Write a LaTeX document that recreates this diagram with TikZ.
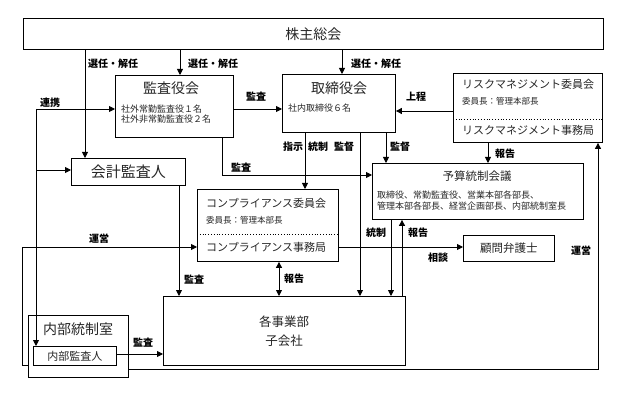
\documentclass[tikz,border=0pt]{standalone}
\usepackage{fontspec}
\setmainfont{Noto Sans CJK JP}
\usetikzlibrary{arrows.meta, positioning, calc}

\begin{document}
\begin{tikzpicture}[x=1pt, y=-1pt,
    caixa/.style={draw, line width=0.9pt, inner sep=0, anchor=north west, text=black!85},
    seta/.style={-{Triangle[length=6pt,width=6pt]}, line width=0.9pt},
    dupla/.style={{Triangle[length=6pt,width=6pt]}-{Triangle[length=6pt,width=6pt]}, line width=0.9pt},
    divisa/.style={dotted, line width=0.8pt},
    rotulo/.style={font=\bfseries\fontsize{10}{10}\selectfont, inner sep=0},
    titulo/.style={font=\fontsize{14}{14}\selectfont, text=black!85, inner sep=0},
    medio/.style={font=\fontsize{11}{11}\selectfont, text=black!85, inner sep=0, anchor=west},
    miudo/.style={font=\fontsize{9}{10.5}\selectfont, text=black!85, inner sep=0, anchor=west, align=left},
    minimo/.style={font=\fontsize{8.5}{8.5}\selectfont, text=black!85, inner sep=0, anchor=west}]

  \useasboundingbox (0,0) rectangle (619,393);

  % caixas principais
  \node[caixa, minimum width=580pt, minimum height=31pt, font=\fontsize{14}{14}\selectfont] (kabu) at (23,18) {株主総会};

  \node[caixa, minimum width=118pt, minimum height=62pt] (kansa) at (115,75) {};
  \node[titulo] (kansaT) at (171,88) {監査役会};
  \node[miudo] (kansaS) at (121,114) {社外常勤監査役１名\\社外非常勤監査役２名};

  \node[caixa, minimum width=113pt, minimum height=58pt] (tori) at (282,74) {};
  \node[titulo] (toriT) at (339,88) {取締役会};
  \node[miudo] (toriS) at (288,108) {社内取締役６名};

  \node[caixa, minimum width=149pt, minimum height=69pt] (risk) at (453,73) {};
  \draw[divisa] (risk.west |- 0,119) -- (risk.east |- 0,119);
  \node[medio] (riskT) at (462,84) {リスクマネジメント委員会};
  \node[minimo] (riskS) at (462,101) {委員長：管理本部長};
  \node[medio] (riskJ) at (462,130) {リスクマネジメント事務局};

  \node[caixa, minimum width=114pt, minimum height=27pt, font=\fontsize{15}{15}\selectfont] (kaikei) at (71,158) {会計監査人};

  \node[caixa, minimum width=211pt, minimum height=56pt] (yosan) at (372,163) {};
  \node[titulo, font=\fontsize{11.5}{11.5}\selectfont] (yosanT) at (477,176) {予算統制会議};
  \node[miudo] (yosanS) at (377,200.5) {取締役、常勤監査役、営業本部各部長、\\管理本部各部長、経営企画部長、内部統制室長};

  \node[caixa, minimum width=141pt, minimum height=72pt] (comp) at (197,189) {};
  \draw[divisa] (comp.west |- 0,234) -- (comp.east |- 0,234);
  \node[medio] (compT) at (206,203) {コンプライアンス委員会};
  \node[minimo] (compS) at (206,220) {委員長：管理本部長};
  \node[medio] (compJ) at (206,247) {コンプライアンス事務局};

  \node[caixa, minimum width=91pt, minimum height=26pt, font=\fontsize{11.5}{11.5}\selectfont] (komon) at (463,235) {顧問弁護士};

  \node[caixa, minimum width=242pt, minimum height=69pt] (jigyo) at (163,296) {};
  \node[titulo, font=\fontsize{12.5}{19}\selectfont, align=center] (jigyoT) at (284,331) {各事業部\\子会社};

  \node[caixa, minimum width=100pt, minimum height=62pt] (naibu) at (28,315) {};
  \node[titulo] (naibuT) at (78,329) {内部統制室};
  \node[caixa, minimum width=83pt, minimum height=19pt, font=\fontsize{11}{11}\selectfont] (kansanin) at (33,346) {内部監査人};

  % conexões
  \draw[seta] (kabu.south -| 85,0) -- (kaikei.north -| 85,0);
  \draw[seta] (kabu.south -| 180,0) -- (kansa.north -| 180,0);
  \draw[seta] (kabu.south -| 342,0) -- (tori.north -| 342,0);
  \draw[seta] (kansa.east |- 0,109) -- (tori.west |- 0,109);
  \draw[seta] (risk.west |- 0,111) -- (tori.east |- 0,111);
  \draw[seta] (risk.south -| 488,0) -- (yosan.north -| 488,0);
  \draw[seta] (tori.south -| 305,0) -- (comp.north -| 305,0);
  \draw[seta] (tori.south -| 360,0) -- (jigyo.north -| 360,0);
  \draw[seta] (tori.south -| 386,0) -- (yosan.north -| 386,0);
  \draw[seta] (kansa.south -| 222,0) |- (yosan.west |- 0,175);
  \draw[seta] (kaikei.south -| 179,0) -- (jigyo.north -| 179,0);
  \draw[dupla] (comp.south -| 279,0) -- (jigyo.north -| 279,0);
  \draw[seta] (yosan.south -| 391,0) -- (jigyo.north -| 391,0);
  \draw[seta] (jigyo.north -| 402,0) -- (yosan.south -| 402,0);
  \draw[seta] (comp.east |- 0,247) -- (komon.west |- 0,247);
  \draw[seta] (kansanin.east |- 0,354) -- (jigyo.west |- 0,354);

  % linha de ligação à esquerda
  \coordinate (elo) at (36,109);
  \draw[seta] (elo) -- (kansa.west |- elo);
  \draw[seta] (elo) -- (kansanin.north -| elo);
  \draw[seta] (elo |- 0,170) -- (kaikei.west |- 0,170);

  \draw[seta] (naibu.west |- 0,365) -- ++(-6,0) |- (comp.west |- 0,247);
  \draw[seta] (naibu.east |- 0,369) -| (risk.south -| 598,0);

  % rótulos
  \foreach \x/\y/\t [count=\n] in {113/64/選任・解任, 213/64/選任・解任, 376/64/選任・解任,
      256/97/監査, 416/97/上程, 50/103/連携, 505/154/報告,
      293/147/指示, 318/147/統制, 344/147/監督, 400/147/監督,
      241/168/監査, 99/239/運営, 194/280/監査, 294/279/報告,
      376/233/統制, 418/233/報告, 438/258/相談, 581/251/運営, 143/343/監査}
    \node[rotulo] (rot\n) at (\x,\y) {\t};
\end{tikzpicture}
\end{document}
